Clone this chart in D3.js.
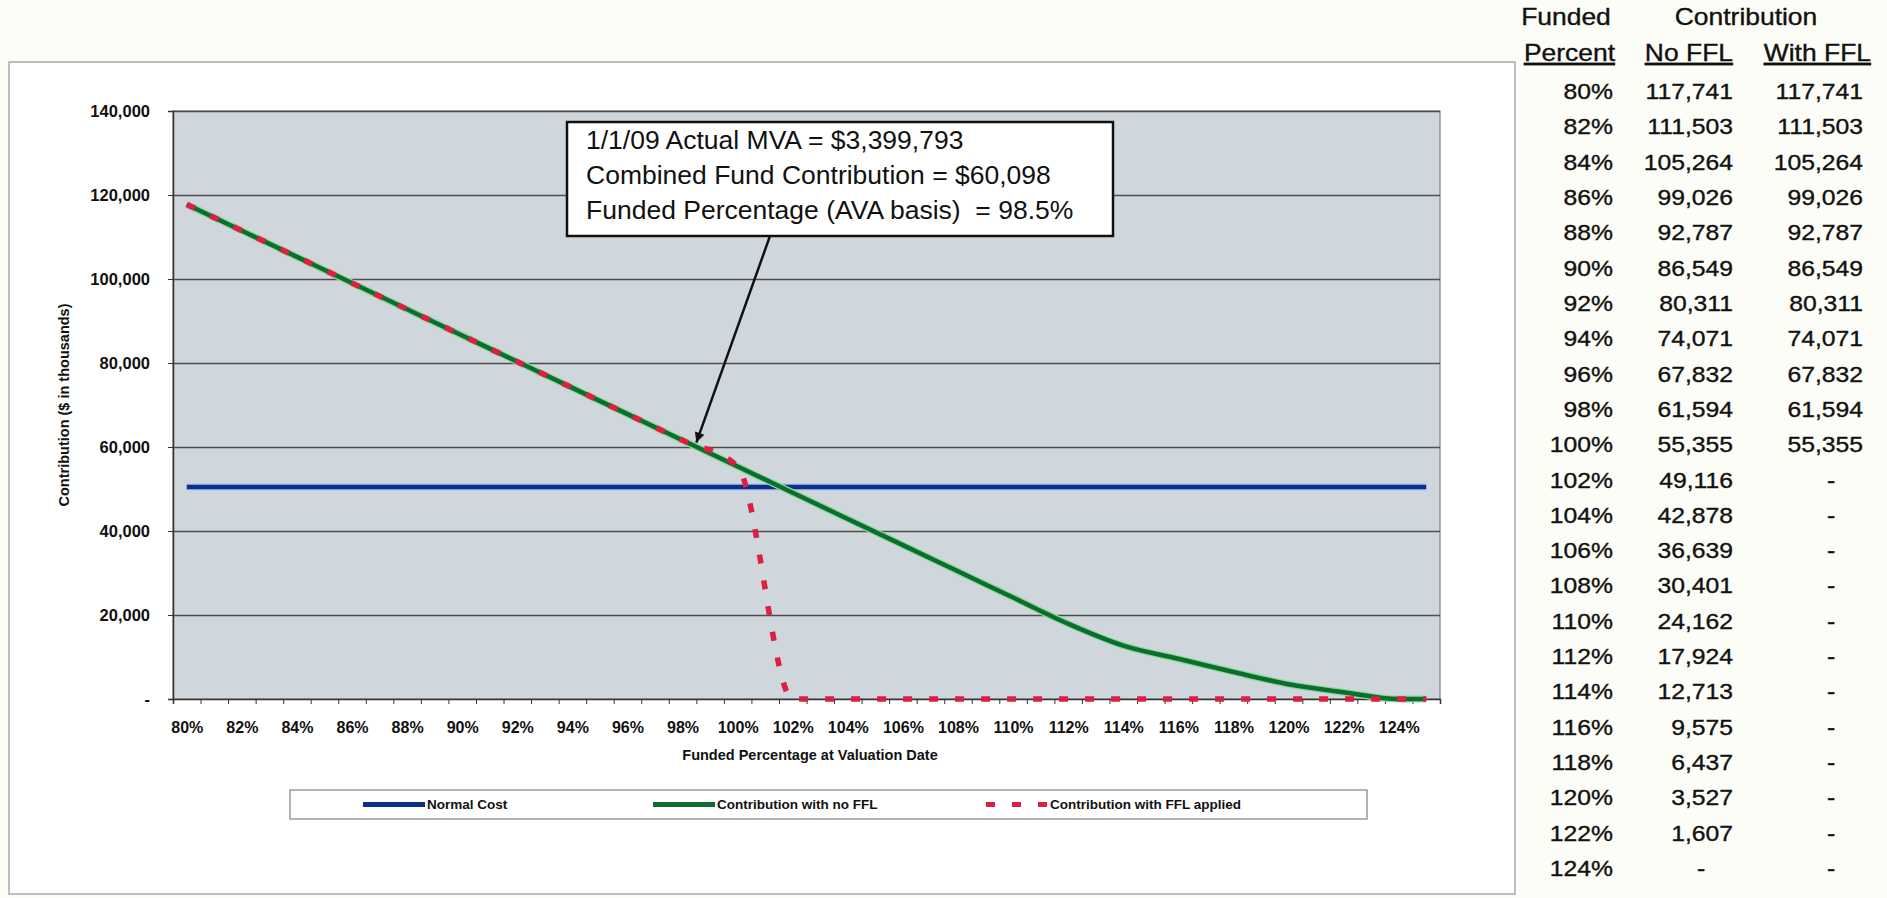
<!DOCTYPE html>
<html>
<head>
<meta charset="utf-8">
<script src="https://cdn.jsdelivr.net/npm/d3@7"></script>
<style>
  body { margin: 0; background: #fdfdf7; }
  svg { display: block; font-family: "Liberation Sans", Arial, sans-serif; }
</style>
</head>
<body>
<svg id="chart" width="1887" height="898"></svg>
<script>
// table values (also the chart's points)
const fundedPct = [80, 82, 84, 86, 88, 90, 92, 94, 96, 98, 100, 102, 104, 106, 108, 110, 112, 114, 116, 118, 120, 122, 124];
const contribNoFFL = [117741, 111503, 105264, 99026, 92787, 86549, 80311, 74071, 67832, 61594, 55355,
  49116, 42878, 36639, 30401, 24162, 17924, 12713, 9575, 6437, 3527, 1607, 0];
const contribWithFFL = [117741, 111503, 105264, 99026, 92787, 86549, 80311, 74071, 67832, 61594, 55355,
  0, 0, 0, 0, 0, 0, 0, 0, 0, 0, 0, 0];

// chart runs one category past the table (125%)
const lastCategory = 125;
const lastNoFFL = 0;
const lastWithFFL = 0;

// normal cost is flat across the chart
const normalCostPct = [80, 125];
const normalCost = [50500, 50500];

const yTicks = [0, 20000, 40000, 60000, 80000, 100000, 120000, 140000];
const legendLabels = ["Normal Cost", "Contribution with no FFL", "Contribution with FFL applied"];
const noteLines = ["1/1/09 Actual MVA = $3,399,793", "Combined Fund Contribution = $60,098", "Funded Percentage (AVA basis)  = 98.5%"];
const notePoint = { pct: 98.5, value: 60098 };

const svg = d3.select('#chart');
const plot = { left: 173, right: 1440, top: 111, bottom: 699 };

// outer chart frame
svg.append('rect')
   .attr('x', 9).attr('y', 62).attr('width', 1506).attr('height', 832)
   .attr('fill', '#fff').attr('stroke', '#a9a9a9').attr('stroke-width', 1.5);

const x = d3.scaleLinear().domain([79.5, lastCategory + 0.5]).range([plot.left, plot.right]);
const y = d3.scaleLinear().domain([0, 140000]).range([plot.bottom, plot.top]);

// plot area
svg.append('rect')
   .attr('x', plot.left).attr('y', plot.top)
   .attr('width', plot.right - plot.left).attr('height', plot.bottom - plot.top)
   .attr('fill', '#cfd7dc').attr('stroke', '#808080').attr('stroke-width', 1.2);

// gridlines
svg.append('g')
   .attr('transform', `translate(${plot.left},0)`)
   .call(d3.axisLeft(y).tickValues(yTicks.slice(1)).tickSize(-(plot.right - plot.left)).tickFormat(''))
   .call(g => g.select('.domain').remove())
   .call(g => g.selectAll('line').attr('stroke', '#4d4d4d').attr('stroke-width', 1.4));

// y axis
svg.append('g')
   .attr('transform', `translate(${plot.left},0)`)
   .call(d3.axisLeft(y).tickValues(yTicks).tickSize(5).tickPadding(18)
           .tickFormat(d => d === 0 ? '-' : d3.format(',')(d)))
   .call(g => g.select('.domain').attr('stroke', '#333').attr('stroke-width', 1.5))
   .call(g => g.selectAll('line').attr('stroke', '#333'))
   .call(g => g.selectAll('text').attr('font-size', 16.5).attr('font-weight', 'bold')
                .attr('fill', '#111').attr('font-family', '"Liberation Sans", Arial, sans-serif'));

// x axis: tick marks between categories, labels every other category
const categories = d3.range(80, lastCategory + 1);
svg.append('g')
   .attr('transform', `translate(0,${plot.bottom})`)
   .call(d3.axisBottom(x).tickValues(categories.map(c => c - 0.5).concat([lastCategory + 0.5]))
           .tickSize(5).tickFormat(''))
   .call(g => g.select('.domain').attr('stroke', '#333').attr('stroke-width', 1.5))
   .call(g => g.selectAll('line').attr('stroke', '#333'));

svg.append('g')
   .attr('transform', `translate(0,${plot.bottom})`)
   .call(d3.axisBottom(x).tickValues(fundedPct).tickSize(0).tickPadding(23).tickFormat(d => d + '%'))
   .call(g => g.select('.domain').remove())
   .call(g => g.selectAll('text').attr('font-size', 16).attr('font-weight', 'bold')
                .attr('fill', '#111').attr('font-family', '"Liberation Sans", Arial, sans-serif'));

// axis titles
svg.append('text')
   .attr('transform', `translate(64,${(plot.top + plot.bottom) / 2}) rotate(-90)`)
   .attr('text-anchor', 'middle').attr('dy', '0.35em')
   .attr('font-size', 14.5).attr('font-weight', 'bold').attr('fill', '#111')
   .text('Contribution ($ in thousands)');

svg.append('text')
   .attr('x', 810).attr('y', 760)
   .attr('text-anchor', 'middle')
   .attr('font-size', 14.5).attr('font-weight', 'bold').attr('fill', '#111')
   .text('Funded Percentage at Valuation Date');

// series
const linePct = fundedPct.concat([lastCategory]);
const noFFLPts = linePct.map((p, i) => [p, i < fundedPct.length ? contribNoFFL[i] : lastNoFFL]);
const withFFLPts = linePct.map((p, i) => [p, i < fundedPct.length ? contribWithFFL[i] : lastWithFFL]);
const normalPts = normalCostPct.map((p, i) => [p, normalCost[i]]);

const smooth = d3.line().x(d => x(d[0])).y(d => y(d[1])).curve(d3.curveMonotoneX);
const straight = d3.line().x(d => x(d[0])).y(d => y(d[1]));

svg.append('path').datum(normalPts).attr('d', straight)
   .attr('fill', 'none').attr('stroke', '#a9c4ea').attr('stroke-width', 7);
svg.append('path').datum(normalPts).attr('d', straight)
   .attr('fill', 'none').attr('stroke', '#0c2f8c').attr('stroke-width', 4.5);

svg.append('path').datum(noFFLPts).attr('d', smooth)
   .attr('fill', 'none').attr('stroke', '#8fd89a').attr('stroke-width', 7);
svg.append('path').datum(noFFLPts).attr('d', smooth)
   .attr('fill', 'none').attr('stroke', '#0b6e2f').attr('stroke-width', 4.5);

svg.append('path').datum(withFFLPts).attr('d', smooth)
   .attr('fill', 'none').attr('stroke', '#dc1f42').attr('stroke-width', 5.5)
   .attr('stroke-dasharray', '9,17');

// annotation box + arrow
const box = { x: 567, y: 122, w: 546, h: 114 };
svg.append('rect')
   .attr('x', box.x).attr('y', box.y).attr('width', box.w).attr('height', box.h)
   .attr('fill', '#fff').attr('stroke', '#111').attr('stroke-width', 2.5);

svg.append('g').selectAll('text')
   .data(noteLines)
   .enter()
   .append('text')
   .attr('x', box.x + 19)
   .attr('y', (d, i) => box.y + 27 + i * 35)
   .attr('font-size', 26.5).attr('fill', '#111')
   .style('white-space', 'pre')
   .text(d => d);

svg.append('defs').append('marker')
   .attr('id', 'head').attr('viewBox', '0 0 10 10')
   .attr('refX', 10).attr('refY', 5)
   .attr('markerWidth', 5).attr('markerHeight', 4)
   .attr('markerUnits', 'strokeWidth')
   .attr('orient', 'auto')
   .append('path').attr('d', 'M0,0 L10,5 L0,10 z').attr('fill', '#111');

svg.append('line')
   .attr('x1', 770).attr('y1', box.y + box.h)
   .attr('x2', x(notePoint.pct)).attr('y2', y(notePoint.value) - 4)
   .attr('stroke', '#111').attr('stroke-width', 2.5)
   .attr('marker-end', 'url(#head)');

// legend
const legend = { x: 290, y: 790, w: 1077, h: 29 };
const legendX = [363, 653, 986];
svg.append('rect')
   .attr('x', legend.x).attr('y', legend.y).attr('width', legend.w).attr('height', legend.h)
   .attr('fill', '#fff').attr('stroke', '#9a9a9a').attr('stroke-width', 1.5);

const legendStyles = [
  { color: '#0c2f8c', dash: null },
  { color: '#0b6e2f', dash: null },
  { color: '#dc1f42', dash: '9,17' }
];
const item = svg.append('g').selectAll('g')
   .data(legendLabels)
   .enter()
   .append('g')
   .attr('transform', (d, i) => `translate(${legendX[i]},${legend.y + legend.h / 2})`);

item.append('line')
   .attr('x1', 0).attr('x2', 62)
   .attr('stroke', (d, i) => legendStyles[i].color)
   .attr('stroke-width', 5)
   .attr('stroke-dasharray', (d, i) => legendStyles[i].dash);

item.append('text')
   .attr('x', 64).attr('dy', '0.35em')
   .attr('font-size', 13.5).attr('font-weight', 'bold').attr('fill', '#111')
   .text(d => d);

// side table
const tbl = svg.append('g').attr('class', 'side-table');
const colRight = [1613, 1733, 1863];
const rowY = d3.scaleLinear().domain([0, fundedPct.length - 1]).range([99, 876]);
const stretch = 1.15;
const fmt = d3.format(',');

function cell(text, xPos, yPos, anchor, size, underline) {
  tbl.append('text')
     .attr('transform', `translate(${xPos},${yPos}) scale(${stretch},1)`)
     .attr('text-anchor', anchor)
     .attr('font-size', size).attr('fill', '#111')
     .attr('stroke', '#111').attr('stroke-width', 0.35)
     .style('text-decoration', underline ? 'underline' : null)
     .text(text);
}

cell('Funded', 1566, 25, 'middle', 23, false);
cell('Contribution', 1746, 25, 'middle', 23, false);
cell('Percent', 1615, 61, 'end', 23, true);
cell('No FFL', 1733, 61, 'end', 23, true);
cell('With FFL', 1871, 61, 'end', 23, true);

fundedPct.forEach((p, i) => {
  const yy = rowY(i);
  cell(p + '%', colRight[0], yy, 'end', 21.5, false);
  [contribNoFFL[i], contribWithFFL[i]].forEach((v, j) => {
    if (v === 0) cell('-', colRight[j + 1] - 32, yy, 'middle', 21.5, false);
    else cell(fmt(v), colRight[j + 1], yy, 'end', 21.5, false);
  });
});
</script>
</body>
</html>
